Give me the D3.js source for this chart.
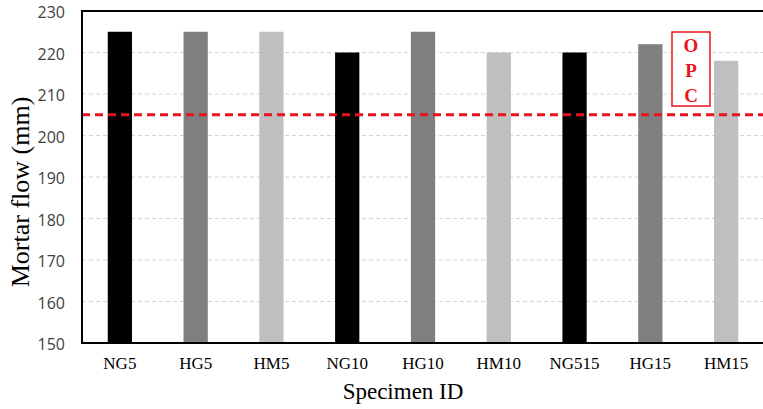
<html>
<head>
<style>
body { margin: 0; background: #fff; }
.serif { font-family: "Liberation Serif", "Times New Roman", serif; }
</style>
</head>
<body>
<svg width="763" height="409"></svg>
<script src="https://d3js.org/d3.v7.min.js"></script>
<script>
var categories = ["NG5", "HG5", "HM5", "NG10", "HG10", "HM10", "NG515", "HG15", "HM15"];
var flowValues = [225, 225, 225, 220, 225, 220, 220, 222, 218];
var barColors = ["#000000", "#7f7f7f", "#bfbfbf", "#000000", "#7f7f7f", "#bfbfbf", "#000000", "#7f7f7f", "#bfbfbf"];
var yTicks = [150, 160, 170, 180, 190, 200, 210, 220, 230];
var opcLevel = 205;

var svg = d3.select("svg");
var plotLeft = 82, plotRight = 764, plotTop = 11, plotBottom = 343;

var x = d3.scaleBand().domain(categories).range([plotLeft, plotRight]).paddingInner(0.68).paddingOuter(0.34);
var y = d3.scaleLinear().domain([150, 230]).range([plotBottom, plotTop]);

// grid
svg.append("g").selectAll("line")
    .data(yTicks.filter(function(d) { return d > 150 && d < 230; }))
    .enter().append("line")
    .attr("x1", plotLeft).attr("x2", plotRight)
    .attr("y1", function(d) { return y(d); }).attr("y2", function(d) { return y(d); })
    .attr("stroke", "#d4d4d4").attr("stroke-width", 1.2)
    .attr("stroke-dasharray", "4,3");

// bars
svg.append("g").selectAll("rect")
    .data(categories)
    .enter().append("rect")
    .attr("x", function(d) { return x(d); })
    .attr("width", x.bandwidth())
    .attr("y", function(d, i) { return y(flowValues[i]); })
    .attr("height", function(d, i) { return plotBottom - y(flowValues[i]); })
    .attr("fill", function(d, i) { return barColors[i]; });

// opc line
svg.append("line")
    .attr("x1", plotLeft).attr("x2", plotRight)
    .attr("y1", y(opcLevel)).attr("y2", y(opcLevel))
    .attr("stroke", "#e8141b").attr("stroke-width", 3)
    .attr("stroke-dasharray", "8,5");

// frame
svg.append("path")
    .attr("d", "M" + plotRight + "," + plotTop + "H" + plotLeft + "V" + plotBottom + "H" + plotRight)
    .attr("fill", "none").attr("stroke", "#000").attr("stroke-width", 2);

// y tick labels
svg.append("g").selectAll("text")
    .data(yTicks)
    .enter().append("text")
    .attr("x", 65).attr("y", function(d) { return y(d) + 7; })
    .attr("text-anchor", "end")
    .attr("font-family", "'Open Sans', 'Liberation Sans', sans-serif")
    .attr("font-size", 16).attr("fill", "#404040")
    .text(function(d) { return d; });

// x tick labels
svg.append("g").selectAll("text")
    .data(categories)
    .enter().append("text")
    .attr("class", "serif")
    .attr("x", function(d) { return x(d) + x.bandwidth() / 2; })
    .attr("y", 369)
    .attr("text-anchor", "middle")
    .attr("font-size", 17).attr("fill", "#000")
    .text(function(d) { return d; });

svg.append("text")
    .attr("class", "serif")
    .attr("x", 403).attr("y", 399)
    .attr("text-anchor", "middle")
    .attr("font-size", 23)
    .text("Specimen ID");

svg.append("text")
    .attr("class", "serif")
    .attr("transform", "translate(29,192) rotate(-90)")
    .attr("text-anchor", "middle")
    .attr("font-size", 26)
    .text("Mortar flow (mm)");

// OPC label box
var box = svg.append("g");
box.append("rect")
    .attr("x", 672).attr("y", 32).attr("width", 38).attr("height", 74)
    .attr("fill", "#fff").attr("stroke", "#e8141b").attr("stroke-width", 1.5);
box.selectAll("text")
    .data(["O", "P", "C"])
    .enter().append("text")
    .attr("class", "serif")
    .attr("x", 691).attr("y", function(d, i) { return 52 + i * 25; })
    .attr("text-anchor", "middle")
    .attr("font-weight", "bold").attr("font-size", 19)
    .attr("fill", "#e8141b")
    .text(function(d) { return d; });
</script>
</body>
</html>
